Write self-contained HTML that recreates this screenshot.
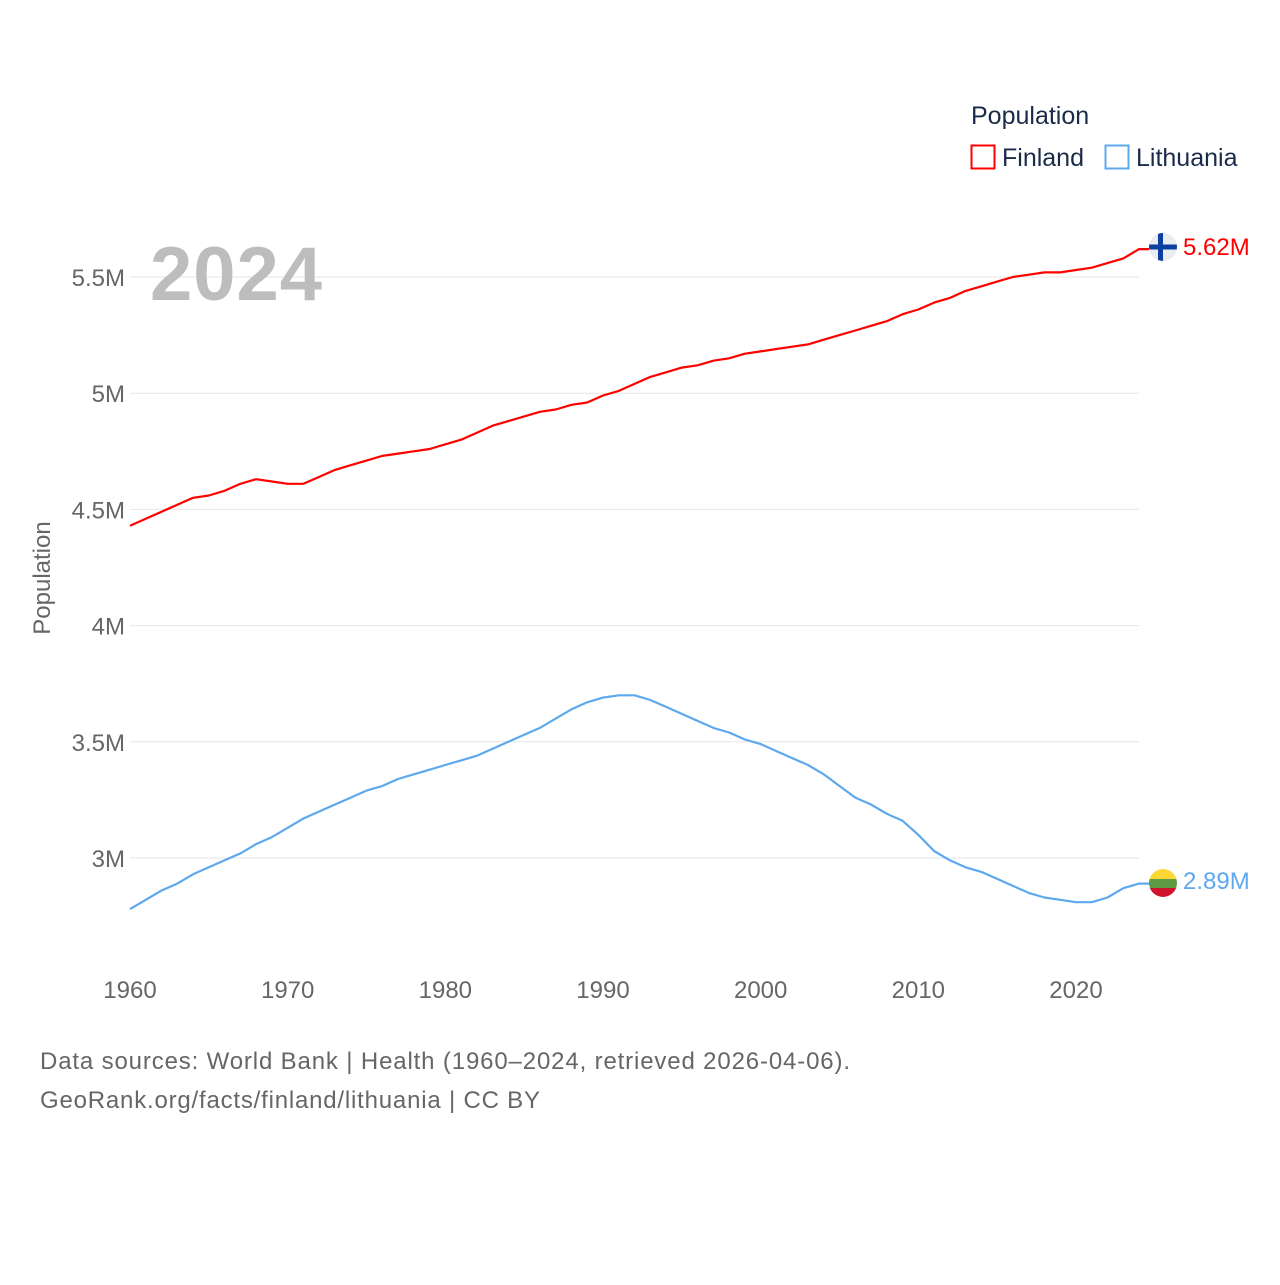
<!DOCTYPE html>
<html><head><meta charset="utf-8"><style>
body{margin:0;background:#fff;}
svg text{font-family:"Liberation Sans",sans-serif;}
</style></head><body>
<svg id="chart" width="1280" height="1280" viewBox="0 0 1280 1280">
<defs>
<clipPath id="cf"><circle cx="1163" cy="247" r="14"/></clipPath>
<clipPath id="cl"><circle cx="1163" cy="883" r="14"/></clipPath>
</defs>
<g id="grid"></g>
<g id="yticks"></g>
<g id="xticks"></g>
<text x="150" y="300" font-size="76" font-weight="bold" fill="#bdbdbd" textLength="172">2024</text>
<text transform="translate(50,578) rotate(-90)" text-anchor="middle" font-size="24" fill="#666">Population</text>
<g id="series"></g>
<g>
<text x="971" y="124" font-size="25" fill="#1a2b4a">Population</text>
<g><rect x="971.5" y="145.5" width="23" height="23" fill="none" stroke="#ff0000" stroke-width="2"/><text x="1002" y="166" font-size="25" fill="#1a2b4a">Finland</text></g>
<g><rect x="1105.5" y="145.5" width="23" height="23" fill="none" stroke="#5ea8ee" stroke-width="2"/><text x="1136" y="166" font-size="25" fill="#1a2b4a">Lithuania</text></g>
</g>
<g clip-path="url(#cf)">
<rect x="1149" y="233" width="28" height="28" fill="#e9ecf0"/>
<rect x="1149" y="244.5" width="28" height="5" fill="#0d3f9e"/>
<rect x="1158" y="233" width="5" height="28" fill="#0d3f9e"/>
</g>
<g clip-path="url(#cl)">
<rect x="1149" y="869" width="28" height="10" fill="#fdd835"/>
<rect x="1149" y="879" width="28" height="9" fill="#5f9b42"/>
<rect x="1149" y="888" width="28" height="10" fill="#d0142b"/>
</g>
<text x="1183" y="255" font-size="24" fill="#ff0000">5.62M</text>
<text x="1183" y="889" font-size="24" fill="#5ea8ee">2.89M</text>
<text x="40" y="1069" font-size="24" fill="#666" textLength="810">Data sources: World Bank | Health (1960–2024, retrieved 2026-04-06).</text>
<text x="40" y="1108" font-size="24" fill="#666" textLength="500">GeoRank.org/facts/finland/lithuania | CC BY</text>
</svg>
<script>
const years=[];for(let y=1960;y<=2024;y++)years.push(y);
const finland=[4.43,4.46,4.49,4.52,4.55,4.56,4.58,4.61,4.63,4.62,4.61,4.61,4.64,4.67,4.69,4.71,4.73,4.74,4.75,4.76,4.78,4.80,4.83,4.86,4.88,4.90,4.92,4.93,4.95,4.96,4.99,5.01,5.04,5.07,5.09,5.11,5.12,5.14,5.15,5.17,5.18,5.19,5.20,5.21,5.23,5.25,5.27,5.29,5.31,5.34,5.36,5.39,5.41,5.44,5.46,5.48,5.50,5.51,5.52,5.52,5.53,5.54,5.56,5.58,5.62];
const lithuania=[2.78,2.82,2.86,2.89,2.93,2.96,2.99,3.02,3.06,3.09,3.13,3.17,3.20,3.23,3.26,3.29,3.31,3.34,3.36,3.38,3.40,3.42,3.44,3.47,3.50,3.53,3.56,3.60,3.64,3.67,3.69,3.70,3.70,3.68,3.65,3.62,3.59,3.56,3.54,3.51,3.49,3.46,3.43,3.40,3.36,3.31,3.26,3.23,3.19,3.16,3.10,3.03,2.99,2.96,2.94,2.91,2.88,2.85,2.83,2.82,2.81,2.81,2.83,2.87,2.89];
const yTicks=[3,3.5,4,4.5,5,5.5];
const yTickLabels=["3M","3.5M","4M","4.5M","5M","5.5M"];
const xTicks=[1960,1970,1980,1990,2000,2010,2020];
const NS="http://www.w3.org/2000/svg";
const X=y=>130+(y-1960)*(946/60);
const Y=v=>858-(v-3)*232.4;
function mk(tag,attrs,parent){const e=document.createElementNS(NS,tag);for(const k in attrs)e.setAttribute(k,attrs[k]);parent.appendChild(e);return e;}
const grid=document.getElementById('grid'),yt=document.getElementById('yticks'),xt=document.getElementById('xticks'),ser=document.getElementById('series');
yTicks.forEach((v,i)=>{
 const l=mk('line',{x1:130,x2:1139,y1:Y(v),y2:Y(v),stroke:'#e6e6e6','stroke-width':1},grid);
 
 
 const t=mk('text',{x:125,y:Y(v)+9,'text-anchor':'end','font-size':24,fill:'#666'},yt);
 t.textContent=yTickLabels[i];
 
 
});
xTicks.forEach(y=>{
 const t=mk('text',{x:X(y),y:998,'text-anchor':'middle','font-size':24,fill:'#666'},xt);
 t.textContent=y;
 
 
});
function line(vals,color,name){
 let d=vals.map((v,i)=>(i?'L':'M')+X(years[i]).toFixed(1)+','+Y(v).toFixed(1)).join(' ');
 d+=' L'+(X(2024)+10)+','+Y(vals[vals.length-1]).toFixed(1);
 const p=mk('path',{d:d,fill:'none',stroke:color,'stroke-width':2.2,'stroke-linejoin':'round'},ser);
 
 
}
line(finland,'#ff0000','finland-line');
line(lithuania,'#5ea8ee','lithuania-line');
</script>
</body></html>
